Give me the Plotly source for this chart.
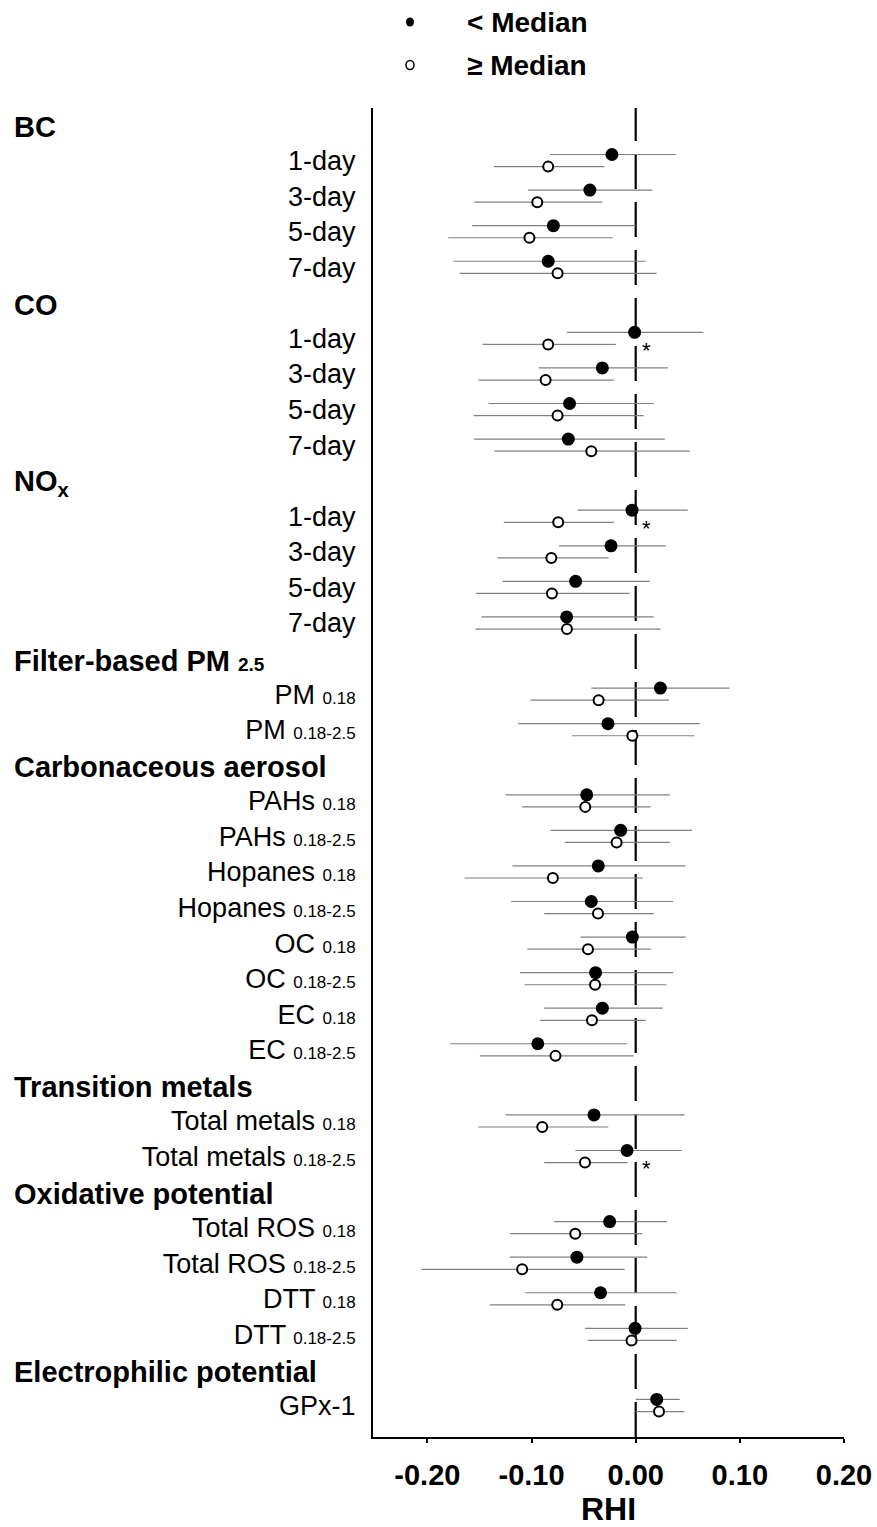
import plotly.graph_objects as go

# ---------------- data ----------------
group_names = [
    "BC", "CO", "NO<sub>x</sub>",
    "Filter-based PM <span style='font-size:19px'>2.5</span>",
    "Carbonaceous aerosol", "Transition metals",
    "Oxidative potential", "Electrophilic potential",
]
group_sizes = [4, 4, 4, 2, 8, 2, 4, 1]


def s(t):
    return f"<span style='font-size:17px'>{t}</span>"


item_labels = [
    "1-day", "3-day", "5-day", "7-day",
    "1-day", "3-day", "5-day", "7-day",
    "1-day", "3-day", "5-day", "7-day",
    "PM " + s("0.18"), "PM " + s("0.18-2.5"),
    "PAHs " + s("0.18"), "PAHs " + s("0.18-2.5"),
    "Hopanes " + s("0.18"), "Hopanes " + s("0.18-2.5"),
    "OC " + s("0.18"), "OC " + s("0.18-2.5"),
    "EC " + s("0.18"), "EC " + s("0.18-2.5"),
    "Total metals " + s("0.18"), "Total metals " + s("0.18-2.5"),
    "Total ROS " + s("0.18"), "Total ROS " + s("0.18-2.5"),
    "DTT " + s("0.18"), "DTT " + s("0.18-2.5"),
    "GPx-1",
]

# < Median (filled)
below_est = [-0.0228, -0.044, -0.079, -0.084,
             -0.001, -0.032, -0.0635, -0.0647,
             -0.0035, -0.0237, -0.0577, -0.0663,
             0.0237, -0.0266,
             -0.047, -0.0144, -0.0359, -0.0426, -0.0032, -0.0385, -0.032, -0.094,
             -0.040, -0.0083,
             -0.025, -0.0564, -0.0337, -0.0006,
             0.0202]
below_lo = [-0.082, -0.1035, -0.157, -0.175,
            -0.066, -0.093, -0.141, -0.155,
            -0.0558, -0.0737, -0.1276, -0.148,
            -0.0426, -0.1128,
            -0.125, -0.0817, -0.1183, -0.1195, -0.053, -0.111, -0.0878, -0.178,
            -0.125, -0.058,
            -0.0785, -0.121, -0.106, -0.0487,
            0.0]
below_hi = [0.0385, 0.016, 0.0, 0.0096,
            0.065, 0.031, 0.0173, 0.028,
            0.050, 0.029, 0.0135, 0.0173,
            0.090, 0.0615,
            0.0327, 0.054, 0.0478, 0.036, 0.048, 0.036, 0.026, -0.0083,
            0.047, 0.0442,
            0.030, 0.011, 0.0394, 0.050,
            0.0423]

# >= Median (open)
above_est = [-0.084, -0.0945, -0.102, -0.075,
             -0.084, -0.0865, -0.075, -0.0426,
             -0.0744, -0.081, -0.0804, -0.066,
             -0.0356, -0.0032,
             -0.0484, -0.0183, -0.0795, -0.0362, -0.0458, -0.039, -0.042, -0.077,
             -0.0897, -0.0487,
             -0.058, -0.109, -0.0753, -0.004,
             0.0224]
above_lo = [-0.136, -0.155, -0.180, -0.169,
            -0.147, -0.151, -0.1555, -0.1356,
            -0.1266, -0.1327, -0.153, -0.154,
            -0.101, -0.061,
            -0.109, -0.068, -0.1644, -0.0878, -0.104, -0.1067, -0.092, -0.1497,
            -0.151, -0.0878,
            -0.1205, -0.206, -0.14, -0.046,
            0.0]
above_hi = [-0.030, -0.032, -0.022, 0.020,
            -0.019, -0.021, 0.0077, 0.052,
            -0.021, -0.026, -0.0058, 0.024,
            0.032, 0.0564,
            0.0144, 0.033, 0.007, 0.0176, 0.0144, 0.0295, 0.0096, -0.0019,
            -0.0263, -0.008,
            0.0064, -0.0106, -0.010, 0.0394,
            0.0468]

# significance flags (asterisk)
significant = [False, False, False, False,
               True, False, False, False,
               True, False, False, False,
               False, False,
               False, False, False, False, False, False, False, False,
               False, True,
               False, False, False, False,
               False]

x_tickvals = [-0.2, -0.1, 0.0, 0.1, 0.2]
x_ticktext = ["-0.20", "-0.10", "0.00", "0.10", "0.20"]
legend_labels = ["< Median", "≥ Median"]

# ---------------- layout helpers ----------------
W, H = 877, 1527
L, R, T, B = 373, 33, 108, 90
FONT = "Liberation Sans, Arial, sans-serif"
OFF = 0.17

header_rows, item_rows = [], []
r = 0
for g, n in zip(group_names, group_sizes):
    header_rows.append(r)
    r += 1
    for _ in range(n):
        item_rows.append(r)
        r += 1

y_fill = [v - OFF for v in item_rows]
y_open = [v + OFF for v in item_rows]

fig = go.Figure()
fig.add_trace(go.Scatter(
    x=below_est, y=y_fill, mode="markers", name="< Median",
    marker=dict(symbol="circle", size=13, color="black", line=dict(width=0)),
    error_x=dict(type="data", symmetric=False,
                 array=[h - e for h, e in zip(below_hi, below_est)],
                 arrayminus=[e - l for e, l in zip(below_est, below_lo)],
                 color="#808080", thickness=1.2, width=0),
    showlegend=False))
fig.add_trace(go.Scatter(
    x=above_est, y=y_open, mode="markers", name="≥ Median",
    marker=dict(symbol="circle", size=10, color="white",
                line=dict(width=2, color="black")),
    error_x=dict(type="data", symmetric=False,
                 array=[h - e for h, e in zip(above_hi, above_est)],
                 arrayminus=[e - l for e, l in zip(above_est, above_lo)],
                 color="#808080", thickness=1.2, width=0),
    showlegend=False))

# zero reference line (dashed)
fig.add_shape(type="line", xref="x", yref="paper", x0=0, x1=0, y0=0, y1=1,
              line=dict(color="black", width=2.2, dash="35px,13px"), layer="below")

annotations = []
# group headers
for g, hr in zip(group_names, header_rows):
    annotations.append(dict(
        x=0, xref="paper", xanchor="left", xshift=12 - L,
        y=hr, yref="y", yanchor="middle", yshift=-2,
        text=f"<b>{g}</b>", showarrow=False,
        font=dict(family=FONT, size=29, color="black")))

# asterisks
for sig, yr in zip(significant, y_open):
    if sig:
        annotations.append(dict(
            x=0.0105, xref="x", y=yr, yref="y", text="*", showarrow=False,
            yshift=-6, font=dict(family=FONT, size=22, color="black")))

# legend (manual)
plot_h = H - T - B
plot_w = W - L - R
leg_y = [22, 65]
for lab, py in zip(legend_labels, leg_y):
    annotations.append(dict(
        x=0, xref="paper", xanchor="left", xshift=465 - L,
        y=1, yref="paper", yanchor="middle", yshift=T - py,
        text=f"<b>{lab}</b>", showarrow=False,
        font=dict(family=FONT, size=28, color="black")))

px_x = (410 - L) / plot_w
fig.add_shape(type="circle", xref="paper", yref="paper",
              xsizemode="pixel", ysizemode="pixel",
              xanchor=px_x, yanchor=1 + (T - leg_y[0]) / plot_h,
              x0=-4, x1=4, y0=-4.5, y1=4.5,
              fillcolor="black", line=dict(color="black", width=0))
fig.add_shape(type="circle", xref="paper", yref="paper",
              xsizemode="pixel", ysizemode="pixel",
              xanchor=px_x, yanchor=1 + (T - leg_y[1]) / plot_h,
              x0=-4, x1=4, y0=-4.5, y1=4.5,
              fillcolor="white", line=dict(color="black", width=1.5))

r_top = (T - 125) / 35.57
r_bot = (H - B - 125) / 35.57

fig.update_layout(
    width=W, height=H,
    margin=dict(l=L, r=R, t=T, b=B, pad=0, autoexpand=False),
    paper_bgcolor="white", plot_bgcolor="white",
    font=dict(family=FONT, color="black"),
    annotations=annotations,
    xaxis=dict(range=[-0.2522, 0.2], tickvals=x_tickvals, ticktext=x_ticktext,
               automargin=False,
               showgrid=False, zeroline=False, showline=True, linecolor="black",
               linewidth=2, ticks="outside", ticklen=4, tickwidth=1.5,
               tickcolor="black", ticklabelstandoff=7,
               tickfont=dict(family=FONT, size=29, color="black", weight="bold"),
               title=dict(text="<b>RHI</b>", standoff=10,
                          font=dict(family=FONT, size=32, color="black"))),
    yaxis=dict(range=[r_bot, r_top], tickvals=item_rows, ticktext=item_labels,
               automargin=False,
               showgrid=False, zeroline=False, showline=True, linecolor="black",
               linewidth=2, ticks="", ticklabelstandoff=10,
               tickfont=dict(family=FONT, size=27, color="black")),
)

fig.write_html("out.html")
